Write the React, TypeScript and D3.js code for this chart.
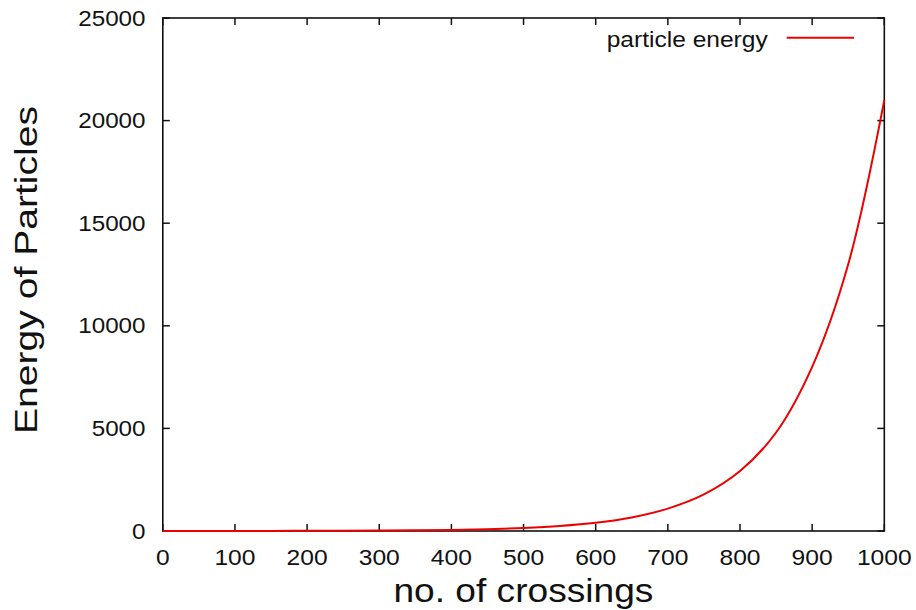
import React from "react";
import * as d3 from "d3";

const crossings = [0, 50, 100, 150, 200, 250, 300, 350, 400, 450, 500, 550, 600, 650, 700, 750, 800, 850, 900, 950, 1000];
const energy = [1, 1.6, 2.7, 4.4, 7.3, 12, 20, 32, 54, 88, 150, 245, 400, 660, 1090, 1780, 2920, 4800, 8000, 13000, 21000];
const xTicks = [0, 100, 200, 300, 400, 500, 600, 700, 800, 900, 1000];
const yTicks = [0, 5000, 10000, 15000, 20000, 25000];
const legendLabel = "particle energy";
const xTitle = "no. of crossings";
const yTitle = "Energy of Particles";

const W = 916;
const H = 610;
const FONT = "'Liberation Sans', Arial, Helvetica, sans-serif";

export default function App() {
  const x = d3.scaleLinear().domain([0, 1000]).range([162.8, 884.3]);
  const y = d3.scaleLinear().domain([0, 25000]).range([531, 18]);
  const pts = crossings.map((c, i) => [c, energy[i]] as [number, number]);
  const line = d3
    .line<[number, number]>()
    .x((d) => x(d[0]))
    .y((d) => y(d[1]))
    .curve(d3.curveCatmullRom.alpha(0.5));
  const [x0, x1] = x.range();
  const [yb, yt] = y.range();
  const tl = 7;
  const red = "#ee0000";
  return (
    <svg
      width={W}
      height={H}
      style={{ position: "absolute", left: 0, top: 0, background: "#fff" }}
      fontFamily={FONT}
    >
      <rect x={0} y={0} width={W} height={H} fill="#fff" />
      {/* ticks */}
      <g stroke="#111" strokeWidth={1.5}>
        {xTicks.map((t) => (
          <g key={"xt" + t}>
            <line x1={x(t)} x2={x(t)} y1={yb} y2={yb - tl} />
            <line x1={x(t)} x2={x(t)} y1={yt} y2={yt + tl} />
          </g>
        ))}
        {yTicks.map((t) => (
          <g key={"yt" + t}>
            <line x1={x0} x2={x0 + tl} y1={y(t)} y2={y(t)} />
            <line x1={x1} x2={x1 - tl} y1={y(t)} y2={y(t)} />
          </g>
        ))}
      </g>
      <rect x={x0} y={yt} width={x1 - x0} height={yb - yt} fill="none" stroke="#111" strokeWidth={1.6} />
      {/* curve */}
      <path d={line(pts) || ""} fill="none" stroke={red} strokeWidth={2} />
      {/* tick labels */}
      <g fontSize={22} fill="#111">
        {xTicks.map((t) => (
          <text key={"xl" + t} transform={`translate(${x(t)},565) scale(1.12,1)`} textAnchor="middle">
            {t}
          </text>
        ))}
        {yTicks.map((t) => (
          <text
            key={"yl" + t}
            transform={`translate(145.5,${y(t)}) scale(1.1,1)`}
            textAnchor="end"
            dominantBaseline="central"
          >
            {t}
          </text>
        ))}
      </g>
      {/* axis titles */}
      <text
        x={523.4}
        y={602}
        fontSize={34}
        textAnchor="middle"
        textLength={260}
        lengthAdjust="spacingAndGlyphs"
        fill="#111"
      >
        {xTitle}
      </text>
      <text
        transform="translate(37,270) rotate(-90)"
        fontSize={31}
        textAnchor="middle"
        textLength={328}
        lengthAdjust="spacingAndGlyphs"
        fill="#111"
      >
        {yTitle}
      </text>
      {/* legend */}
      <text x={606.7} y={46.5} fontSize={22} textLength={161} lengthAdjust="spacingAndGlyphs" fill="#111">
        {legendLabel}
      </text>
      <line x1={786.7} x2={854} y1={37.7} y2={37.7} stroke={red} strokeWidth={2} />
    </svg>
  );
}
